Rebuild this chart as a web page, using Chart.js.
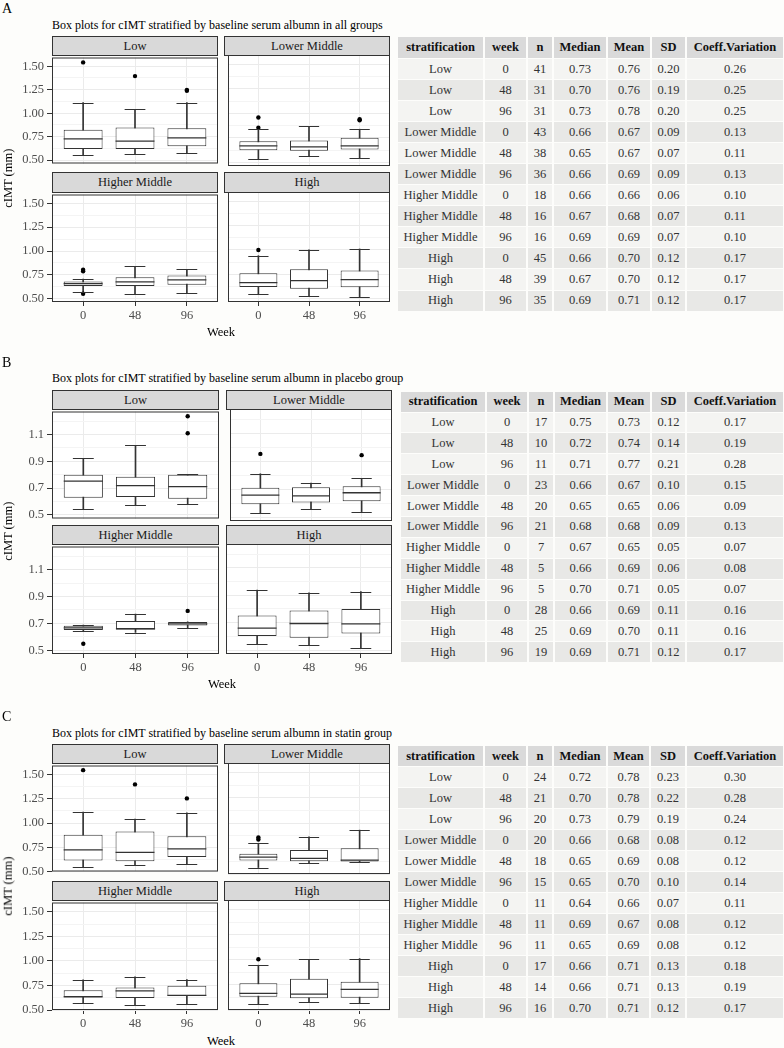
<!DOCTYPE html>
<html>
<head>
<meta charset="utf-8">
<script src="https://cdn.jsdelivr.net/npm/chart.js@4.4.0/dist/chart.umd.min.js"></script>
<style>
  body { margin: 0; background: #fdfdfb; font-family: "Liberation Serif", "Times New Roman", serif; }
  #page { position: relative; width: 784px; height: 1048px; overflow: hidden; }
  .txt { position: absolute; white-space: nowrap; color: #000; font-family: "Liberation Serif", serif; }
  .strip { position: absolute; box-sizing: border-box; background: #d9d9d9; border: 1px solid #333;
           color: #1a1a1a; font-size: 12.5px; text-align: center; font-family: "Liberation Serif", serif; }
  canvas { position: absolute; }
  table.stats { position: absolute; border-collapse: collapse; table-layout: fixed; font-size: 12.5px;
                font-family: "Liberation Serif", serif; }
  table.stats td, table.stats th { padding: 0; text-align: center; border-right: 2px solid #fdfdfb;
           border-bottom: 1px solid #fdfdfb; color: #333; font-weight: normal; overflow: hidden; white-space: nowrap;
           font-family: "Liberation Serif", serif; font-size: 12.5px; }
  table.stats th { background: #dadada; color: #111; font-weight: bold; }
  table.stats tr.odd td { background: #f4f4f2; }
  table.stats tr.even td { background: #e8e8e6; }
</style>
</head>
<body>
<div id="page"></div>
<script>
// categories
const weeks = ['0', '48', '96'];
const strata = ['Low', 'Lower Middle', 'Higher Middle', 'High'];
const tableHeads = ['stratification', 'week', 'n', 'Median', 'Mean', 'SD', 'Coeff.Variation'];

// box summaries: per stratum, one row per week -> [lower whisker, Q1, median, Q3, upper whisker]
const boxesAll = [
  [[0.554, 0.619, 0.727, 0.825, 1.114], [0.568, 0.619, 0.703, 0.849, 1.042], [0.575, 0.649, 0.737, 0.839, 1.114]],
  [[0.534, 0.625, 0.669, 0.717, 0.839], [0.568, 0.619, 0.659, 0.724, 0.869], [0.547, 0.632, 0.669, 0.751, 0.839]],
  [[0.565, 0.633, 0.657, 0.681, 0.705], [0.548, 0.633, 0.677, 0.725, 0.838], [0.561, 0.647, 0.698, 0.742, 0.807]],
  [[0.544, 0.619, 0.664, 0.759, 0.940], [0.531, 0.602, 0.684, 0.800, 1.000], [0.514, 0.616, 0.695, 0.787, 1.009]]
];
const outliersAll = [
  [[1.541], [1.395], [1.249, 1.239]],
  [[0.958, 0.853], [], [0.940, 0.930]],
  [[0.804, 0.787, 0.551], [], []],
  [[0.998], [], []]
];

const boxesPlacebo = [
  [[0.546, 0.628, 0.752, 0.800, 0.923], [0.570, 0.633, 0.718, 0.785, 1.020], [0.577, 0.619, 0.710, 0.800, 0.802]],
  [[0.527, 0.592, 0.657, 0.710, 0.810], [0.560, 0.604, 0.652, 0.713, 0.744], [0.539, 0.614, 0.674, 0.720, 0.776]],
  [[0.642, 0.651, 0.667, 0.682, 0.687], [0.632, 0.655, 0.660, 0.718, 0.769], [0.668, 0.685, 0.697, 0.711, 0.711]],
  [[0.546, 0.603, 0.661, 0.752, 0.937], [0.536, 0.591, 0.694, 0.788, 0.918], [0.517, 0.622, 0.692, 0.800, 0.927]]
];
const outliersPlacebo = [
  [[], [], [1.238, 1.110]],
  [[0.952], [], [0.943]],
  [[0.548], [], [0.793]],
  [[], [], []]
];

const boxesStatin = [
  [[0.550, 0.614, 0.723, 0.880, 1.115], [0.566, 0.607, 0.697, 0.913, 1.042], [0.573, 0.650, 0.733, 0.863, 1.105]],
  [[0.564, 0.634, 0.667, 0.700, 0.803], [0.607, 0.627, 0.654, 0.737, 0.866], [0.614, 0.624, 0.637, 0.753, 0.933]],
  [[0.569, 0.632, 0.635, 0.701, 0.807], [0.550, 0.622, 0.695, 0.728, 0.837], [0.563, 0.642, 0.649, 0.748, 0.810]],
  [[0.563, 0.632, 0.665, 0.767, 0.946], [0.579, 0.616, 0.658, 0.810, 1.005], [0.569, 0.622, 0.705, 0.780, 1.012]]
];
const outliersStatin = [
  [[1.547], [1.400], [1.255]],
  [[0.860, 0.840], [], []],
  [[], [], []],
  [[1.005], [], []]
];

// summary tables (rows: strata x weeks)
const nAll      = [41, 31, 31, 43, 38, 36, 18, 16, 16, 45, 39, 35];
const medianAll = [0.73, 0.70, 0.73, 0.66, 0.65, 0.66, 0.66, 0.67, 0.69, 0.66, 0.67, 0.69];
const meanAll   = [0.76, 0.76, 0.78, 0.67, 0.67, 0.69, 0.66, 0.68, 0.69, 0.70, 0.70, 0.71];
const sdAll     = [0.20, 0.19, 0.20, 0.09, 0.07, 0.09, 0.06, 0.07, 0.07, 0.12, 0.12, 0.12];
const cvAll     = [0.26, 0.25, 0.25, 0.13, 0.11, 0.13, 0.10, 0.11, 0.10, 0.17, 0.17, 0.17];

const nPlacebo      = [17, 10, 11, 23, 20, 21, 7, 5, 5, 28, 25, 19];
const medianPlacebo = [0.75, 0.72, 0.71, 0.66, 0.65, 0.68, 0.67, 0.66, 0.70, 0.66, 0.69, 0.69];
const meanPlacebo   = [0.73, 0.74, 0.77, 0.67, 0.65, 0.68, 0.65, 0.69, 0.71, 0.69, 0.70, 0.71];
const sdPlacebo     = [0.12, 0.14, 0.21, 0.10, 0.06, 0.09, 0.05, 0.06, 0.05, 0.11, 0.11, 0.12];
const cvPlacebo     = [0.17, 0.19, 0.28, 0.15, 0.09, 0.13, 0.07, 0.08, 0.07, 0.16, 0.16, 0.17];

const nStatin      = [24, 21, 20, 20, 18, 15, 11, 11, 11, 17, 14, 16];
const medianStatin = [0.72, 0.70, 0.73, 0.66, 0.65, 0.65, 0.64, 0.69, 0.65, 0.66, 0.66, 0.70];
const meanStatin   = [0.78, 0.78, 0.79, 0.68, 0.69, 0.70, 0.66, 0.67, 0.69, 0.71, 0.71, 0.71];
const sdStatin     = [0.23, 0.22, 0.19, 0.08, 0.08, 0.10, 0.07, 0.08, 0.08, 0.13, 0.13, 0.12];
const cvStatin     = [0.30, 0.28, 0.24, 0.12, 0.12, 0.14, 0.11, 0.12, 0.12, 0.18, 0.19, 0.17];

// page layout for the three panels
const panels = [
  { letter: 'A', letterY: 9, title: 'Box plots for cIMT stratified by baseline serum albumn in all groups', titleY: 25,
    rows: [[36, 55, 166], [172, 192, 302]], cols: [[52, 218], [224, 390]], weekY: 332,
    y: { min: 0.465, max: 1.593, major: 0.25, dec: 2 },
    table: { top: 37, head: 22, row: 21.05, cols: [398, 484, 527, 553, 607, 651, 686, 784] },
    data: [boxesAll, outliersAll, nAll, medianAll, meanAll, sdAll, cvAll] },
  { letter: 'B', letterY: 363, title: 'Box plots for cIMT stratified by baseline serum albumn in placebo group', titleY: 378,
    rows: [[390, 409, 521], [525, 544, 654]], cols: [[52, 219], [226, 392]], weekY: 684,
    y: { min: 0.472, max: 1.273, major: 0.2, dec: 1 },
    table: { top: 392, head: 20.5, row: 20.9, cols: [401, 486, 528, 554, 607, 651, 686, 784] },
    data: [boxesPlacebo, outliersPlacebo, nPlacebo, medianPlacebo, meanPlacebo, sdPlacebo, cvPlacebo] },
  { letter: 'C', letterY: 717, title: 'Box plots for cIMT stratified by baseline serum albumn in statin group', titleY: 733,
    rows: [[744, 763, 874], [881, 900, 1010]], cols: [[52, 218], [224, 390]], weekY: 1041,
    y: { min: 0.5, max: 1.595, major: 0.25, dec: 2 },
    table: { top: 746, head: 21, row: 21, cols: [398, 484, 527, 553, 607, 650, 686, 784] },
    data: [boxesStatin, outliersStatin, nStatin, medianStatin, meanStatin, sdStatin, cvStatin] }
];

const tickFont = { family: 'Liberation Serif', size: 12.5 };
Chart.defaults.font.family = 'Liberation Serif';
Chart.defaults.font.size = 12.5;
Chart.defaults.color = '#4d4d4d';

const page = document.getElementById('page');

function addText(text, x, cy, size, extra) {
  const d = document.createElement('div');
  d.className = 'txt';
  d.textContent = text;
  d.style.left = x + 'px';
  d.style.top = (cy - size / 2 - 1) + 'px';
  d.style.fontSize = size + 'px';
  d.style.lineHeight = (size + 2) + 'px';
  if (extra) Object.assign(d.style, extra);
  page.appendChild(d);
  return d;
}

// whisker caps and medians, placed with the chart's own scales
function boxExtras(boxes) {
  return {
    id: 'boxExtras',
    afterDatasetsDraw(chart) {
      const { ctx, scales: { x, y } } = chart;
      ctx.save();
      ctx.strokeStyle = '#333';
      boxes.forEach((b, i) => {
        ctx.lineWidth = 1;
        const capL = x.getPixelForValue(i - 0.2), capR = x.getPixelForValue(i + 0.2);
        [b[0], b[4]].forEach(v => {
          const py = Math.round(y.getPixelForValue(v)) + 0.5;
          ctx.beginPath(); ctx.moveTo(capL, py); ctx.lineTo(capR, py); ctx.stroke();
        });
        const mL = x.getPixelForValue(i - 0.375), mR = x.getPixelForValue(i + 0.375);
        const my = y.getPixelForValue(b[2]);
        ctx.lineWidth = 1.3;
        ctx.beginPath(); ctx.moveTo(mL, my); ctx.lineTo(mR, my); ctx.stroke();
      });
      ctx.restore();
    }
  };
}

const panelFrame = {
  id: 'panelFrame',
  beforeDraw(chart) {
    const { ctx, chartArea: a } = chart;
    ctx.save();
    ctx.fillStyle = '#ffffff';
    ctx.fillRect(a.left, a.top, a.right - a.left, a.bottom - a.top);
    ctx.restore();
  },
  afterDraw(chart) {
    const { ctx, chartArea: a } = chart;
    ctx.save();
    ctx.strokeStyle = '#333';
    ctx.lineWidth = 1;
    ctx.strokeRect(a.left + 0.5, a.top + 0.5, a.right - a.left - 1, a.bottom - a.top - 1);
    ctx.restore();
  }
};

function makeFacet(p, rowIdx, colIdx) {
  const k = rowIdx * 2 + colIdx;
  const boxes = p.data[0][k], outliers = p.data[1][k];
  const [stripTop, plotTop, plotBottom] = p.rows[rowIdx];
  const [x0, x1] = p.cols[colIdx];
  const isLeft = colIdx === 0, isBottom = rowIdx === 1;
  const leftW = isLeft ? x0 : 0;
  const bottomH = isBottom ? 24 : 0;
  const pad = 8;

  const strip = document.createElement('div');
  strip.className = 'strip';
  strip.textContent = strata[k];
  Object.assign(strip.style, { left: x0 + 'px', top: stripTop + 'px', width: (x1 - x0) + 'px',
    height: (plotTop - stripTop + 1) + 'px', lineHeight: (plotTop - stripTop - 1) + 'px' });
  page.appendChild(strip);

  const cv = document.createElement('canvas');
  const w = leftW + (x1 - x0) + pad, h = pad + (plotBottom - plotTop) + (isBottom ? bottomH : pad);
  cv.width = w; cv.height = h;
  cv.style.left = (x0 - leftW) + 'px';
  cv.style.top = (plotTop - pad) + 'px';
  page.appendChild(cv);

  const stems = boxes.map((b, i) => ({ x: i, y: [b[0], b[4]] }));
  const bodies = boxes.map((b, i) => ({ x: i, y: [b[1], b[3]] }));
  const points = [];
  outliers.forEach((vals, i) => vals.forEach(v => points.push({ x: i, y: v })));

  const minorStep = p.y.major / 2;
  const isMajor = v => Math.abs((v - 0.5) / p.y.major - Math.round((v - 0.5) / p.y.major)) < 1e-6;

  new Chart(cv.getContext('2d'), {
    type: 'bar',
    data: {
      datasets: [
        { type: 'bar', data: stems, backgroundColor: '#333', barThickness: 1, grouped: false, order: 3 },
        { type: 'bar', data: bodies, backgroundColor: '#fff', borderColor: '#333', borderWidth: 1,
          borderSkipped: false, barPercentage: 0.75, categoryPercentage: 1, grouped: false, order: 2 },
        { type: 'scatter', data: points, pointRadius: 2.2, pointBackgroundColor: '#000',
          pointBorderWidth: 0, showLine: false, order: 1 }
      ]
    },
    options: {
      responsive: false, animation: false, events: [],
      layout: { padding: { top: pad, right: pad, bottom: isBottom ? 0 : pad, left: 0 } },
      plugins: { legend: { display: false }, tooltip: { enabled: false } },
      scales: {
        x: {
          type: 'linear', min: -0.6, max: 2.6, offset: false,
          afterFit: s => { s.height = bottomH; },
          border: { display: false },
          grid: { offset: false, color: '#ebebeb', drawTicks: isBottom, tickLength: 4, tickColor: '#333' },
          ticks: { display: isBottom, stepSize: 1, autoSkip: false, includeBounds: false, padding: 2,
                   maxRotation: 0, font: tickFont, color: '#4d4d4d', callback: v => weeks[v] }
        },
        y: {
          type: 'linear', min: p.y.min, max: p.y.max,
          afterFit: s => { s.width = leftW; },
          border: { display: false },
          grid: {
            drawTicks: isLeft, tickLength: 5,
            color: c => isMajor(c.tick.value) ? '#ebebeb' : '#f4f4f4',
            tickColor: c => isMajor(c.tick.value) ? '#333' : 'rgba(0,0,0,0)'
          },
          ticks: { display: isLeft, stepSize: minorStep, autoSkip: false, includeBounds: false, padding: 3,
                   font: tickFont, color: '#4d4d4d',
                   callback: v => isMajor(v) ? v.toFixed(p.y.dec) : '' }
        }
      }
    },
    plugins: [panelFrame, boxExtras(boxes)]
  });
}

function makeTable(p) {
  const t = p.table;
  const [, , n, med, mean, sd, cv] = p.data;
  const tbl = document.createElement('table');
  tbl.className = 'stats';
  tbl.style.left = t.cols[0] + 'px';
  tbl.style.top = t.top + 'px';
  tbl.style.width = (t.cols[7] - t.cols[0]) + 'px';
  const cg = document.createElement('colgroup');
  for (let i = 0; i < 7; i++) {
    const c = document.createElement('col');
    c.style.width = (t.cols[i + 1] - t.cols[i]) + 'px';
    cg.appendChild(c);
  }
  tbl.appendChild(cg);
  const hr = document.createElement('tr');
  tableHeads.forEach(h => {
    const th = document.createElement('th');
    th.textContent = h;
    th.style.height = (t.head - 1) + 'px';
    hr.appendChild(th);
  });
  tbl.appendChild(hr);
  for (let i = 0; i < 12; i++) {
    const tr = document.createElement('tr');
    tr.className = i % 2 === 0 ? 'odd' : 'even';
    const cells = [strata[Math.floor(i / 3)], weeks[i % 3], n[i], med[i].toFixed(2), mean[i].toFixed(2),
                   sd[i].toFixed(2), cv[i].toFixed(2)];
    cells.forEach(v => {
      const td = document.createElement('td');
      td.textContent = v;
      td.style.height = (t.row - 1) + 'px';
      tr.appendChild(td);
    });
    tbl.appendChild(tr);
  }
  page.appendChild(tbl);
}

panels.forEach(p => {
  addText(p.letter, 2, p.letterY, 14);
  addText(p.title, 52, p.titleY, 12);
  for (let r = 0; r < 2; r++) for (let c = 0; c < 2; c++) makeFacet(p, r, c);
  addText('Week', 0, p.weekY, 12.5, { left: ((p.cols[0][0] + p.cols[1][1]) / 2 - 40) + 'px', width: '80px', textAlign: 'center' });
  const midY = (p.rows[0][1] + p.rows[1][2]) / 2;
  addText('cIMT (mm)', 0, midY, 12.5, { left: '-32px', width: '80px', textAlign: 'center', transform: 'rotate(-90deg)' });
  makeTable(p);
});
</script>
</body>
</html>
